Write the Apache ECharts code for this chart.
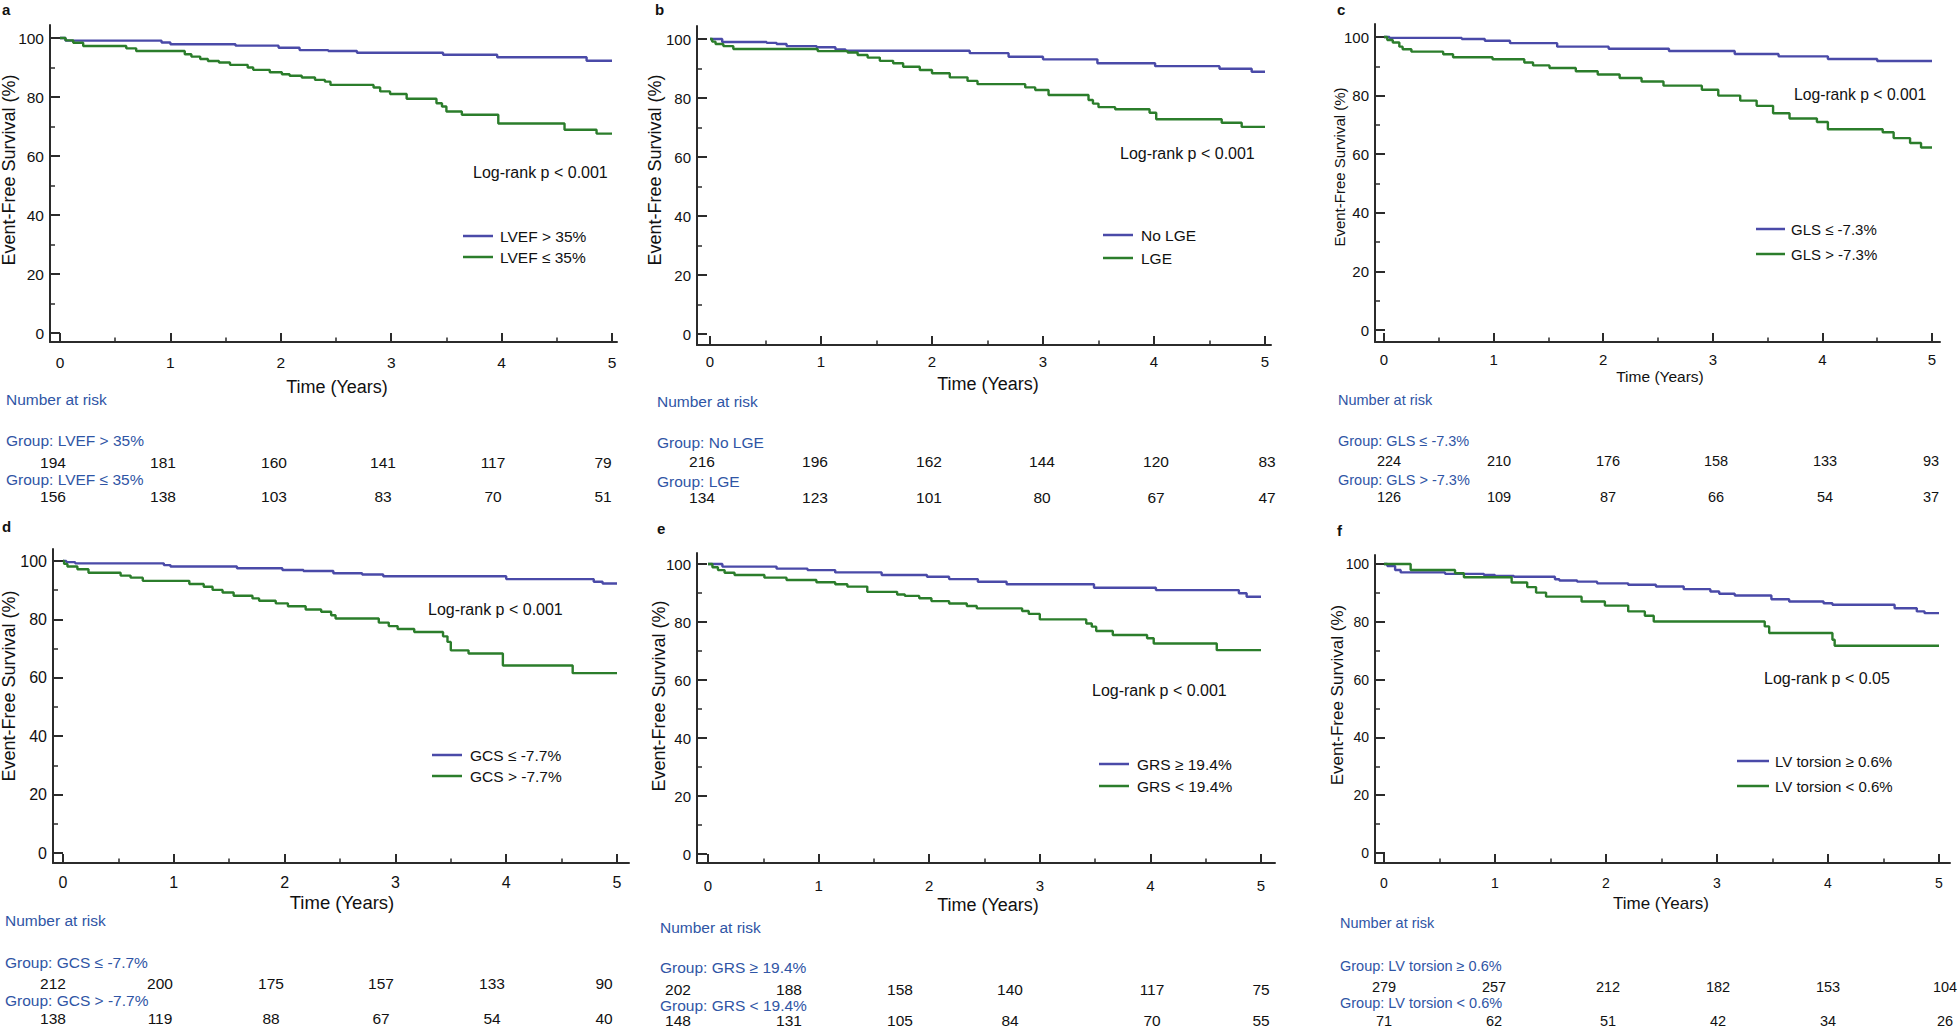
<!DOCTYPE html>
<html><head><meta charset="utf-8">
<script src="https://cdn.jsdelivr.net/npm/echarts@6/dist/echarts.min.js"></script>
<style>html,body{margin:0;padding:0;background:#fff}#c{width:1959px;height:1030px}</style>
</head><body><div id="c"></div>
<script>
// ---------------- data ----------------
const xTicks = [0, 1, 2, 3, 4, 5];
const xMinorTicks = [0.5, 1.5, 2.5, 3.5, 4.5];
const yTicks = [0, 20, 40, 60, 80, 100];
const yMinorTicks = [10, 30, 50, 70, 90];

const panelLetters = ['a', 'b', 'c', 'd', 'e', 'f'];
const yAxisTitle = 'Event-Free Survival (%)';
const xAxisTitle = 'Time (Years)';
const riskTitle = 'Number at risk';

const groupsA = ['LVEF > 35%', 'LVEF ≤ 35%'];
const groupsB = ['No LGE', 'LGE'];
const groupsC = ['GLS ≤ -7.3%', 'GLS > -7.3%'];
const groupsD = ['GCS ≤ -7.7%', 'GCS > -7.7%'];
const groupsE = ['GRS ≥ 19.4%', 'GRS < 19.4%'];
const groupsF = ['LV torsion ≥ 0.6%', 'LV torsion < 0.6%'];

const pTexts = ['Log-rank p < 0.001', 'Log-rank p < 0.001', 'Log-rank p < 0.001',
                'Log-rank p < 0.001', 'Log-rank p < 0.001', 'Log-rank p < 0.05'];

// Kaplan-Meier curves: [time (years), survival (%)]
const aBlue = [[0,100],[0.05,99.1],[0.92,98.5],[1.0,97.9],[1.59,97.4],[1.98,96.7],[2.17,95.9],[2.43,95.6],[2.69,95.0],[3.47,94.3],[3.96,93.5],[4.77,92.3],[5,92.3]];
const aGreen = [[0,100],[0.05,99.2],[0.12,98.4],[0.21,97.3],[0.6,96.5],[0.69,95.6],[1.13,94.5],[1.19,93.7],[1.27,92.9],[1.34,92.2],[1.44,91.7],[1.54,90.9],[1.70,90.0],[1.75,89.2],[1.90,88.4],[2.01,87.7],[2.08,87.2],[2.19,86.6],[2.31,85.8],[2.40,85.2],[2.45,84.1],[2.84,83.2],[2.90,81.9],[2.99,81.0],[3.14,79.4],[3.41,77.9],[3.46,76.8],[3.50,75.1],[3.64,74.0],[3.97,71.0],[4.57,68.9],[4.86,67.6],[5,67.6]];
const bBlue = [[0,100],[0.11,99.0],[0.51,98.7],[0.6,98.3],[0.69,97.6],[0.96,97.2],[1.13,96.5],[1.22,96.0],[2.34,95.2],[2.69,94.0],[3.0,93.1],[3.49,91.8],[4.01,90.8],[4.59,89.9],[4.88,88.9],[5,88.9]];
const bGreen = [[0,100],[0.02,99.1],[0.05,98.3],[0.12,97.6],[0.21,96.6],[0.97,95.9],[1.24,95.4],[1.33,94.6],[1.42,93.7],[1.53,92.6],[1.65,91.8],[1.74,90.6],[1.89,89.5],[2.0,88.4],[2.16,87.0],[2.32,85.8],[2.41,84.7],[2.84,83.6],[2.93,82.7],[3.05,81.0],[3.41,79.3],[3.45,78.1],[3.5,76.9],[3.65,76.2],[3.96,75.0],[4.02,72.8],[4.61,71.6],[4.79,70.2],[5,70.2]];
const cBlue = [[0,100],[0.05,99.7],[0.71,99.3],[0.92,98.7],[1.15,97.9],[1.58,96.7],[2.05,96.0],[2.6,95.2],[3.2,94.2],[3.6,93.4],[4.05,92.5],[4.5,91.8],[5,91.8]];
const cGreen = [[0,100],[0.03,99.0],[0.08,98.1],[0.14,96.7],[0.17,95.8],[0.25,95.0],[0.54,94.1],[0.63,93.1],[0.99,92.4],[1.28,91.3],[1.36,90.3],[1.51,89.4],[1.75,88.3],[1.95,87.2],[2.15,86.0],[2.35,84.8],[2.55,83.4],[2.9,82.0],[3.05,80.0],[3.25,78.3],[3.4,76.5],[3.55,74.0],[3.7,72.2],[3.95,71.0],[4.05,68.5],[4.55,67.5],[4.65,65.5],[4.8,63.8],[4.9,62.3],[5,62.3]];
const dBlue = [[0,100],[0.03,99.6],[0.11,99.2],[0.91,98.6],[0.97,98.1],[1.57,97.5],[1.98,96.9],[2.17,96.6],[2.44,95.8],[2.7,95.4],[2.89,94.8],[4.0,93.8],[4.79,92.9],[4.87,92.3],[5,92.3]];
const dGreen = [[0,100],[0.01,99.0],[0.04,98.1],[0.13,97.2],[0.23,96.0],[0.52,95.0],[0.61,94.3],[0.72,93.2],[1.14,92.1],[1.27,91.2],[1.35,90.1],[1.44,89.2],[1.54,88.1],[1.71,87.2],[1.77,86.4],[1.92,85.5],[2.03,84.5],[2.19,83.4],[2.33,82.6],[2.42,81.4],[2.46,80.3],[2.85,78.9],[2.94,77.7],[3.02,76.7],[3.17,75.7],[3.43,74.2],[3.47,72.3],[3.5,69.4],[3.66,68.3],[3.97,64.2],[4.6,61.6],[5,61.6]];
const eBlue = [[0,100],[0.13,99.1],[0.62,98.4],[0.9,97.9],[1.15,97.1],[1.57,96.2],[1.98,95.6],[2.18,94.8],[2.44,93.9],[2.7,93.0],[3.49,91.8],[4.05,91.0],[4.8,89.9],[4.87,88.7],[5,88.7]];
const eGreen = [[0,100],[0.04,98.9],[0.09,97.9],[0.15,97.0],[0.24,96.2],[0.51,95.3],[0.71,94.5],[0.98,93.7],[1.15,93.0],[1.26,92.2],[1.44,90.4],[1.71,89.5],[1.78,89.0],[1.91,88.2],[2.02,87.2],[2.18,86.4],[2.34,85.5],[2.43,84.7],[2.84,83.8],[2.9,82.8],[3.0,80.9],[3.42,79.5],[3.47,78.4],[3.51,76.9],[3.66,75.5],[3.97,74.4],[4.03,72.6],[4.6,70.3],[5,70.3]];
const fBlue = [[0,100],[0.03,99.3],[0.1,97.9],[0.15,97.1],[0.55,96.6],[0.9,96.2],[1.0,95.9],[1.17,95.6],[1.54,94.7],[1.58,94.3],[1.74,93.9],[1.92,93.3],[2.2,92.8],[2.45,92.2],[2.7,91.3],[2.94,90.5],[3.02,89.7],[3.16,89.1],[3.49,87.8],[3.65,87.0],[3.96,86.4],[4.04,85.9],[4.6,84.7],[4.8,83.6],[4.87,83.0],[5,83.0]];
const fGreen = [[0,100],[0.24,97.9],[0.64,96.8],[0.72,95.4],[1.15,93.6],[1.29,92.0],[1.37,90.1],[1.46,88.7],[1.78,87.0],[1.99,85.6],[2.2,83.6],[2.35,82.1],[2.43,80.1],[3.43,78.4],[3.47,76.1],[4.04,73.8],[4.06,71.7],[5,71.7]];

// Numbers at risk at years 0..5
const aRisk1 = [194, 181, 160, 141, 117, 79];
const aRisk2 = [156, 138, 103, 83, 70, 51];
const bRisk1 = [216, 196, 162, 144, 120, 83];
const bRisk2 = [134, 123, 101, 80, 67, 47];
const cRisk1 = [224, 210, 176, 158, 133, 93];
const cRisk2 = [126, 109, 87, 66, 54, 37];
const dRisk1 = [212, 200, 175, 157, 133, 90];
const dRisk2 = [138, 119, 88, 67, 54, 40];
const eRisk1 = [202, 188, 158, 140, 117, 75];
const eRisk2 = [148, 131, 105, 84, 70, 55];
const fRisk1 = [279, 257, 212, 182, 153, 104];
const fRisk2 = [71, 62, 51, 42, 34, 26];

// ---------------- layout (pixel positions only) ----------------
const FONT = '"Liberation Sans", Arial, Helvetica, sans-serif';
const BLUE = '#4a4aa8', GREEN = '#2b7d2b', AXIS = '#2b2b2b', TXT = '#111', TBLUE = '#2f55a5';

const layouts = [
 {gx:50, x0:60, x5:612, xEnd:617, y100:38, y0:333, yTop:25, yAx:342, tickFs:15.5, nameFs:18, timeFs:18,
  letter:[2,9], yName:[9,170], xName:[337,387], xLblCY:362, lr:[473,172], lrFs:16,
  leg:{x1:463,x2:493,y:[236,257],tx:500,fs:15.5},
  tbl:{x:6, nar:399, g1:440, r1:462, g2:479, r2:496, fs:15.5, cols:[53,163,274,383,493,603]}},
 {gx:697, x0:710, x5:1265, xEnd:1271, y100:39, y0:334, yTop:26, yAx:345, tickFs:15, nameFs:18, timeFs:18,
  letter:[655,9], yName:[655,170], xName:[988,384], xLblCY:361, lr:[1120,153], lrFs:16,
  leg:{x1:1103,x2:1133,y:[235,258],tx:1141,fs:15.5},
  tbl:{x:657, nar:401, g1:442, r1:461, g2:481, r2:497, fs:15.5, cols:[702,815,929,1042,1156,1267]}},
 {gx:1375, x0:1384, x5:1932, xEnd:1940, y100:37, y0:330, yTop:24, yAx:342, tickFs:15, nameFs:15, timeFs:15.5,
  letter:[1337,9], yName:[1339,167], xName:[1660,376], xLblCY:359, lr:[1794,94], lrFs:15.7,
  leg:{x1:1756,x2:1785,y:[229,254],tx:1791,fs:15},
  tbl:{x:1338, nar:400, g1:441, r1:461, g2:480, r2:497, fs:14.5, cols:[1389,1499,1608,1716,1825,1931]}},
 {gx:53, x0:63, x5:617, xEnd:629, y100:561, y0:853, yTop:549, yAx:863, tickFs:16, nameFs:18, timeFs:18.5,
  letter:[2,526], yName:[9,686], xName:[342,902], xLblCY:882, lr:[428,609], lrFs:16,
  leg:{x1:432,x2:462,y:[755,776],tx:470,fs:15.5},
  tbl:{x:5, nar:920, g1:962, r1:983, g2:1000, r2:1018, fs:15.5, cols:[53,160,271,381,492,604]}},
 {gx:697, x0:708, x5:1261, xEnd:1275, y100:564, y0:854, yTop:553, yAx:863, tickFs:15, nameFs:18, timeFs:18,
  letter:[657,528], yName:[659,696], xName:[988,905], xLblCY:885, lr:[1092,690], lrFs:16,
  leg:{x1:1099,x2:1129,y:[764,786],tx:1137,fs:15.5},
  tbl:{x:660, nar:927, g1:967, r1:989, g2:1005, r2:1020, fs:15.5, cols:[678,789,900,1010,1152,1261]}},
 {gx:1375, x0:1384, x5:1939, xEnd:1950, y100:564, y0:853, yTop:555, yAx:863, tickFs:14, nameFs:17, timeFs:17,
  letter:[1337,530], yName:[1337,695], xName:[1661,903], xLblCY:883, lr:[1764,678], lrFs:16,
  leg:{x1:1737,x2:1769,y:[761,786],tx:1775,fs:15},
  tbl:{x:1340, nar:923, g1:966, r1:987, g2:1003, r2:1021, fs:14.5, cols:[1384,1494,1608,1718,1828,1945]}}
];

const curves = [[aBlue, aGreen], [bBlue, bGreen], [cBlue, cGreen], [dBlue, dGreen], [eBlue, eGreen], [fBlue, fGreen]];
const groups = [groupsA, groupsB, groupsC, groupsD, groupsE, groupsF];
const risks = [[aRisk1, aRisk2], [bRisk1, bRisk2], [cRisk1, cRisk2], [dRisk1, dRisk2], [eRisk1, eRisk2], [fRisk1, fRisk2]];

// ---------------- build option ----------------
const grid = [], xAxis = [], yAxis = [], series = [], graphic = [];
function txt(x, y, s, fs, opt) {
  opt = opt || {};
  return {type:'text', x:x, y:y, rotation: opt.rot || 0, silent:true,
    style:{text:s, fontSize:fs, fontFamily:FONT, fontWeight: opt.bold ? 'bold' : 'normal',
      fill: opt.color || TXT, align: opt.align || 'left', verticalAlign:'middle',
      textAlign: opt.align || 'left', textVerticalAlign:'middle'}};
}

layouts.forEach(function (L, i) {
  const ppy = (L.x5 - L.x0) / 5;
  const ppu = (L.y0 - L.y100) / 100;
  const xMin = (L.gx - L.x0) / ppy, xMax = 5 + (L.xEnd - L.x5) / ppy;
  const yMin = -(L.yAx - L.y0) / ppu, yMax = 100 + (L.y100 - L.yTop) / ppu;
  grid.push({left:L.gx, top:L.yTop, width:L.xEnd - L.gx, height:L.yAx - L.yTop, containLabel:false});
  const lineSt = {color:AXIS, width:2};
  xAxis.push({type:'value', gridIndex:i, min:xMin, max:xMax, position:'bottom',
    axisLine:{show:true, onZero:false, lineStyle:lineSt},
    axisTick:{show:true, inside:true, length:9, customValues:xTicks, lineStyle:lineSt},
    axisLabel:{show:true, customValues:xTicks, margin: L.xLblCY - L.yAx - L.tickFs * 0.5,
      fontSize:L.tickFs, fontFamily:FONT, color:TXT, formatter: function (v) { return String(v); }},
    splitLine:{show:false}});
  xAxis.push({type:'value', gridIndex:i, min:xMin, max:xMax, position:'bottom',
    axisLine:{show:false, onZero:false},
    axisTick:{show:true, inside:true, length:4.5, customValues:xMinorTicks, lineStyle:{color:AXIS, width:1.5}},
    axisLabel:{show:false}, splitLine:{show:false}});
  yAxis.push({type:'value', gridIndex:i, min:yMin, max:yMax, position:'left',
    axisLine:{show:true, onZero:false, lineStyle:lineSt},
    axisTick:{show:true, inside:true, length:10, customValues:yTicks, lineStyle:lineSt},
    axisLabel:{show:true, customValues:yTicks, margin:6, fontSize:L.tickFs, fontFamily:FONT, color:TXT,
      formatter: function (v) { return String(v); }},
    splitLine:{show:false}});
  yAxis.push({type:'value', gridIndex:i, min:yMin, max:yMax, position:'left',
    axisLine:{show:false, onZero:false},
    axisTick:{show:true, inside:true, length:5, customValues:yMinorTicks, lineStyle:{color:AXIS, width:1.5}},
    axisLabel:{show:false}, splitLine:{show:false}});

  [BLUE, GREEN].forEach(function (col, k) {
    series.push({type:'line', name:groups[i][k], xAxisIndex:2 * i, yAxisIndex:2 * i,
      data:curves[i][k], step:'end', symbol:'none', silent:true,
      lineStyle:{color:col, width:2.4}, itemStyle:{color:col}, z:3});
  });

  // texts
  graphic.push(txt(L.letter[0], L.letter[1], panelLetters[i], 15, {bold:true}));
  graphic.push(txt(L.yName[0], L.yName[1], yAxisTitle, L.nameFs, {rot:Math.PI / 2, align:'center'}));
  graphic.push(txt(L.xName[0], L.xName[1], xAxisTitle, L.timeFs, {align:'center'}));
  graphic.push(txt(L.lr[0], L.lr[1], pTexts[i], L.lrFs));
  // legend
  [BLUE, GREEN].forEach(function (col, k) {
    graphic.push({type:'line', silent:true, shape:{x1:L.leg.x1, y1:L.leg.y[k], x2:L.leg.x2, y2:L.leg.y[k]},
      style:{stroke:col, lineWidth:2.5}});
    graphic.push(txt(L.leg.tx, L.leg.y[k], groups[i][k], L.leg.fs));
  });
  // risk table
  const T = L.tbl;
  graphic.push(txt(T.x, T.nar, riskTitle, T.fs, {color:TBLUE}));
  graphic.push(txt(T.x, T.g1, 'Group: ' + groups[i][0], T.fs, {color:TBLUE}));
  graphic.push(txt(T.x, T.g2, 'Group: ' + groups[i][1], T.fs, {color:TBLUE}));
  T.cols.forEach(function (cx, j) {
    graphic.push(txt(cx, T.r1, String(risks[i][0][j]), T.fs, {align:'center'}));
    graphic.push(txt(cx, T.r2, String(risks[i][1][j]), T.fs, {align:'center'}));
  });
});

const chart = echarts.init(document.getElementById('c'), null, {renderer:'svg', width:1959, height:1030});
chart.setOption({
  backgroundColor:'#ffffff', animation:false,
  grid:grid, xAxis:xAxis, yAxis:yAxis, series:series, graphic:graphic
});
</script>
</body></html>
